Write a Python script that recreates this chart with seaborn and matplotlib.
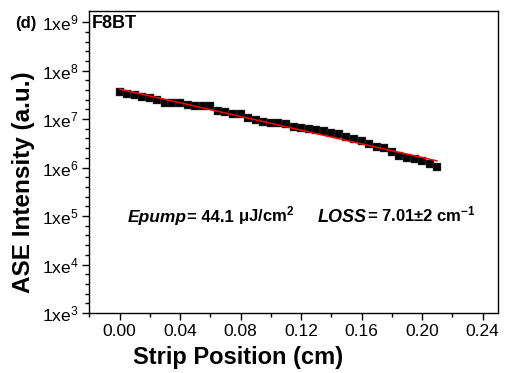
import numpy as np
import pandas as pd
import matplotlib
matplotlib.use("Agg")
import matplotlib.pyplot as plt
from matplotlib.ticker import FixedLocator, MultipleLocator, NullFormatter
import seaborn as sns

# ---- data ----
position_cm = [0.000, 0.005, 0.010, 0.015, 0.020, 0.025, 0.030, 0.035, 0.040, 0.045,
               0.050, 0.055, 0.060, 0.065, 0.070, 0.075, 0.080, 0.085, 0.090, 0.095,
               0.100, 0.105, 0.110, 0.115, 0.120, 0.125, 0.130, 0.135, 0.140, 0.145,
               0.150, 0.155, 0.160, 0.165, 0.170, 0.175, 0.180, 0.185, 0.190, 0.195,
               0.200, 0.205, 0.210]
ase_intensity = [3.54e7, 3.33e7, 3.07e7, 2.92e7, 2.75e7, 2.46e7, 2.17e7, 2.14e7, 2.10e7, 2.00e7,
                 1.88e7, 1.82e7, 1.82e7, 1.46e7, 1.39e7, 1.30e7, 1.26e7, 1.05e7, 9.42e6, 8.77e6,
                 8.48e6, 8.36e6, 7.78e6, 6.81e6, 6.50e6, 6.22e6, 6.08e6, 5.77e6, 5.07e6, 4.84e6,
                 4.25e6, 3.87e6, 3.50e6, 3.05e6, 2.64e6, 2.55e6, 2.05e6, 1.76e6, 1.58e6, 1.49e6,
                 1.37e6, 1.19e6, 1.04e6]
fit_position_cm = [0.00, 0.21]
fit_intensity = [4.16e7, 1.37e6]

x_ticks = [0.00, 0.04, 0.08, 0.12, 0.16, 0.20, 0.24]
x_tick_labels = ["0.00", "0.04", "0.08", "0.12", "0.16", "0.20", "0.24"]
y_exponents = [3, 4, 5, 6, 7, 8, 9]
y_tick_labels = [r"1xe$^{%d}$" % e for e in y_exponents]

df_pts = pd.DataFrame({"x": position_cm, "y": ase_intensity})
df_fit = pd.DataFrame({"x": fit_position_cm, "y": fit_intensity})

sns.set_style("ticks")
plt.rcParams["font.family"] = ["Liberation Sans", "DejaVu Sans"]
plt.rcParams["mathtext.fontset"] = "custom"
plt.rcParams["mathtext.rm"] = "Liberation Sans"
plt.rcParams["mathtext.it"] = "Liberation Sans:italic"
plt.rcParams["mathtext.bf"] = "Liberation Sans:bold"
plt.rcParams["mathtext.default"] = "regular"
for k in ("text.color", "axes.labelcolor", "xtick.color", "ytick.color",
          "axes.edgecolor", "xtick.labelcolor", "ytick.labelcolor"):
    plt.rcParams[k] = "black"

W, H = 505, 373
fig = plt.figure(figsize=(W / 100, H / 100), dpi=100)
L, R, T, B = 89.3, 497.7, 11, 313
ax = fig.add_axes([L / W, 1 - B / H, (R - L) / W, (B - T) / H])

sns.scatterplot(data=df_pts, x="x", y="y", marker="s", s=32, color="black",
                edgecolor="#555555", linewidth=0.3, ax=ax, zorder=2, legend=False)
sns.lineplot(data=df_fit, x="x", y="y", color="#ff0000", linewidth=1.1, ax=ax,
             zorder=3, legend=False)

ax.set_yscale("log")
ax.set_xlim(-0.02, 0.25)
ax.set_ylim(1e3, 10 ** 9.23)

ax.xaxis.set_major_locator(FixedLocator(x_ticks))
ax.set_xticklabels(x_tick_labels)
ax.xaxis.set_minor_locator(MultipleLocator(0.02))
ax.yaxis.set_major_locator(FixedLocator([10.0 ** e for e in y_exponents]))
ax.set_yticklabels(y_tick_labels)
minor_y = [10 ** (e + f) for e in range(3, 9) for f in (0.2, 0.4, 0.6, 0.8)]
ax.yaxis.set_minor_locator(FixedLocator(minor_y))
ax.yaxis.set_minor_formatter(NullFormatter())

ax.tick_params(axis="both", which="major", direction="out", length=5, width=1.0,
               labelsize=12.5, color="black", labelcolor="black")
ax.tick_params(axis="both", which="minor", direction="out", length=2.8, width=1.0,
               color="black")
ax.tick_params(axis="x", which="major", pad=3)
ax.tick_params(axis="y", which="major", pad=3)
for sp in ax.spines.values():
    sp.set_visible(True)
    sp.set_linewidth(1.0)
    sp.set_color("black")

ax.set_xlabel("")
ax.set_ylabel("")
fig.text(238.5 / W, 1 - 364 / H, "Strip Position (cm)", ha="center", va="baseline",
         fontsize=17, fontweight="bold")
fig.text(24 / W, 1 - 182 / H, "ASE Intensity (a.u.)", ha="center", va="center",
         rotation=90, fontsize=17.5, fontweight="bold")

fig.text(15 / W, 1 - 28 / H, "(d)", ha="left", va="baseline", fontsize=12, fontweight="bold")
fig.text(92 / W, 1 - 28 / H, "F8BT", ha="left", va="baseline",
         fontsize=13, fontweight="bold")

# annotation line, pieces chained left to right on one baseline
base_y = 1 - 221.7 / H
pieces = [
    ("= 44.1 ", 12, "normal"),
    ("\u03bcJ/cm$^{2}$", 12, "normal"),
    ("     ", 12, "normal"),
    ("LOSS", 13, "italic"),
    ("= 7.01\u00b12 cm$^{-1}$", 12, "normal"),
]
prev = fig.text(128 / W, base_y, "Epump", ha="left", va="baseline",
                fontsize=12.5, fontweight="bold", fontstyle="italic")
for txt, fs, st in pieces:
    prev = ax.annotate(txt, xy=(1, base_y), xycoords=(prev, "figure fraction"),
                       ha="left", va="baseline", fontsize=fs, fontweight="bold",
                       fontstyle=st, annotation_clip=False)

fig.savefig("out.png", dpi=100)
